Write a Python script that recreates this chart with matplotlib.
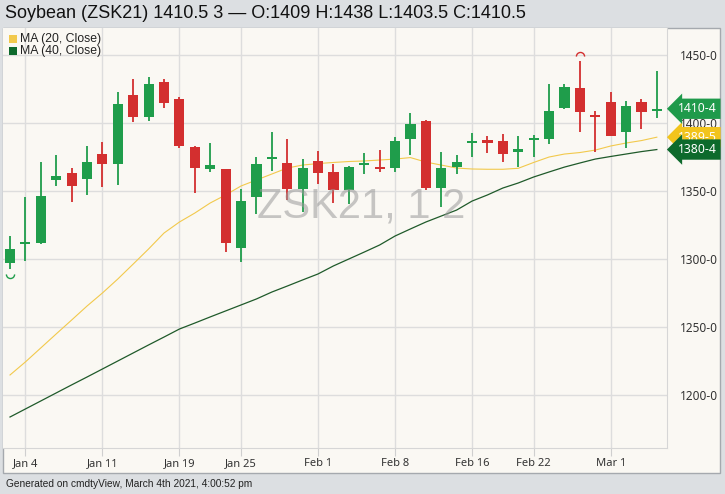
import numpy as np
import matplotlib
matplotlib.use("Agg")
import matplotlib.pyplot as plt
from matplotlib.patches import Rectangle
from matplotlib.path import Path
from matplotlib.ticker import FuncFormatter, MultipleLocator

# Trading days shown on the chart (Dec 31 2020 .. Mar 4 2021)
dates = ["Dec 31", "Jan 4", "Jan 5", "Jan 6", "Jan 7", "Jan 8",
         "Jan 11", "Jan 12", "Jan 13", "Jan 14", "Jan 15",
         "Jan 19", "Jan 20", "Jan 21", "Jan 22",
         "Jan 25", "Jan 26", "Jan 27", "Jan 28", "Jan 29",
         "Feb 1", "Feb 2", "Feb 3", "Feb 4", "Feb 5",
         "Feb 8", "Feb 9", "Feb 10", "Feb 11", "Feb 12",
         "Feb 16", "Feb 17", "Feb 18", "Feb 19",
         "Feb 22", "Feb 23", "Feb 24", "Feb 25", "Feb 26",
         "Mar 1", "Mar 2", "Mar 3", "Mar 4"]

opens = [1296.8, 1311.0, 1312.0, 1358.0, 1363.5, 1358.8,
         1377.2, 1369.9, 1420.6, 1404.2, 1429.9,
         1417.6, 1382.6, 1366.4, 1366.0,
         1307.9, 1345.4, 1373.3, 1370.4, 1351.2,
         1372.3, 1364.2, 1350.7, 1369.5, 1367.4,
         1367.1, 1388.2, 1401.7, 1352.0, 1367.9,
         1385.0, 1387.5, 1386.8, 1378.4,
         1387.5, 1388.0, 1410.8, 1425.5, 1405.8,
         1415.2, 1393.2, 1415.2, 1409.0]
highs = [1316.9, 1345.8, 1371.1, 1376.5, 1367.1, 1383.1,
         1386.3, 1423.0, 1432.4, 1433.6, 1432.1,
         1419.3, 1383.0, 1385.1, 1366.5,
         1351.2, 1375.2, 1393.2, 1388.2, 1373.3,
         1379.4, 1369.6, 1368.2, 1377.7, 1380.1,
         1389.5, 1407.1, 1402.0, 1378.4, 1376.5,
         1392.9, 1390.4, 1391.7, 1390.7,
         1391.2, 1428.7, 1428.7, 1445.8, 1408.8,
         1422.6, 1416.2, 1417.6, 1438.0]
lows = [1292.5, 1298.8, 1311.0, 1353.7, 1341.7, 1347.0,
        1352.7, 1354.4, 1401.0, 1401.5, 1411.3,
        1381.4, 1348.8, 1364.2, 1305.4,
        1297.6, 1333.1, 1364.7, 1343.5, 1334.8,
        1355.0, 1341.0, 1340.5, 1362.5, 1363.8,
        1364.2, 1376.5, 1350.7, 1338.0, 1362.5,
        1374.8, 1377.7, 1371.6, 1367.9,
        1374.8, 1384.6, 1410.0, 1393.6, 1378.9,
        1390.5, 1382.0, 1395.6, 1403.5]
closes = [1307.4, 1311.5, 1346.3, 1361.0, 1353.7, 1371.6,
          1369.9, 1414.0, 1404.2, 1428.4, 1414.5,
          1383.3, 1367.1, 1368.9, 1312.0,
          1342.9, 1369.9, 1374.8, 1351.2, 1366.9,
          1363.0, 1350.7, 1367.6, 1370.5, 1366.0,
          1386.8, 1399.3, 1352.0, 1366.7, 1371.3,
          1386.5, 1385.5, 1377.0, 1380.6,
          1388.5, 1409.0, 1426.2, 1407.9, 1404.8,
          1390.7, 1412.5, 1407.9, 1410.5]

# moving averages
ma20 = [1214.7, 1224.3, 1234.6, 1244.9, 1255.1, 1265.4,
        1275.0, 1285.3, 1296.3, 1307.4, 1319.1,
        1327.2, 1333.8, 1341.2, 1347.1,
        1353.7, 1358.1, 1362.5, 1366.9, 1369.1,
        1370.2, 1371.0, 1371.7, 1372.1, 1372.8,
        1373.5, 1374.6, 1371.3, 1369.1, 1366.9,
        1366.2, 1366.0, 1366.0, 1366.7,
        1371.0, 1375.0, 1377.2, 1378.3, 1380.1,
        1383.1, 1385.3, 1387.1, 1389.6]
ma40 = [1183.8, 1189.7, 1195.6, 1201.5, 1207.4, 1213.2,
        1219.1, 1225.0, 1230.9, 1236.8, 1242.6,
        1248.5, 1252.9, 1257.4, 1261.8,
        1266.2, 1270.6, 1275.7, 1280.1, 1284.6,
        1289.0, 1294.9, 1300.0, 1305.1, 1310.3,
        1316.9, 1322.1, 1327.2, 1331.6, 1336.0,
        1342.6, 1347.1, 1352.2, 1355.9,
        1360.3, 1364.0, 1367.6, 1370.6, 1373.5,
        1375.4, 1377.2, 1379.0, 1380.5]

tick_dates = ["Jan 4", "Jan 11", "Jan 19", "Jan 25", "Feb 1",
              "Feb 8", "Feb 16", "Feb 22", "Mar 1"]

title = "Soybean (ZSK21) 1410.5 3 \u2014 O:1409 H:1438 L:1403.5 C:1410.5"
footer = "Generated on cmdtyView, March 4th 2021, 4:00:52 pm"

UP = "#1f9d4b"
DOWN = "#d32f2f"
MA20_C = "#f2c94c"
MA40_C = "#1f5a2a"
CREAM = "#faf8f3"


def fut(v):
    # futures price in eighths, e.g. 1410.5 -> 1410-4
    whole = int(v)
    return f"{whole}-{int(round((v - whole) * 8))}"


W, H = 725, 494
fig = plt.figure(figsize=(W / 100, H / 100), dpi=100)
fig.patch.set_facecolor("#dcdfe2")

# chart panel (behind the axes)
fig.patches.append(Rectangle((3 / W, 1 - 473 / H), 717 / W, 445 / H,
                             transform=fig.transFigure, facecolor=CREAM,
                             edgecolor="#a5a9ae", lw=1.0, zorder=-10))

ax = fig.add_axes([3 / W, 1 - 448 / H, 664 / W, 420 / H])
ax.set_facecolor(CREAM)

x = np.arange(len(dates))
o = np.array(opens)
c = np.array(closes)
up = c >= o
colors = np.where(up, UP, DOWN)

ax.vlines(x, lows, highs, colors=colors, lw=1.3, zorder=3)
body_lo = np.minimum(o, c)
body_h = np.maximum(np.abs(c - o), 1.3)
ax.bar(x, body_h, bottom=body_lo, width=0.66, color=colors, zorder=3.1)

ax.plot(x, ma20, color=MA20_C, lw=0.8, zorder=2.5)
ax.plot(x, ma40, color=MA40_C, lw=0.9, zorder=2.5)

# high / low markers (small arcs)
arc = Path.arc(0, 180)
arc_up = Path(arc.vertices + [0, 1.2], arc.codes)
arc_dn = Path(arc.vertices * [1, -1] - [0, 1.2], arc.codes)
i_hi = int(np.argmax(highs))
i_lo = int(np.argmin(lows))
ax.plot(x[i_hi], highs[i_hi], marker=arc_up, ms=13, mfc="none",
        mec=UP if up[i_hi] else DOWN, mew=1.0, zorder=4)
ax.plot(x[i_lo], lows[i_lo], marker=arc_dn, ms=13, mfc="none",
        mec=UP if up[i_lo] else DOWN, mew=1.0, zorder=4)

ax.set_xlim(-0.455, 42.66)
ax.set_ylim(1161.0, 1469.9)

tick_pos = [dates.index(d) for d in tick_dates]
ax.set_xticks(tick_pos)
ax.set_xticklabels(tick_dates, fontfamily="Noto Sans", fontsize=8, color="#333333")
ax.yaxis.tick_right()
ax.yaxis.set_major_locator(MultipleLocator(50))
ax.yaxis.set_major_formatter(FuncFormatter(lambda v, p: f"{int(v)}-0"))
for lab in ax.get_yticklabels():
    lab.set_fontfamily("Noto Sans")
ax.tick_params(axis="y", length=0, pad=9, labelsize=8.5, labelcolor="#333333")
ax.tick_params(axis="x", length=6, width=0.8, color="#cfcfcf", pad=1)
ax.grid(True, color="#dddddd", lw=1.0, zorder=0)
ax.set_axisbelow(True)
for side in ["left", "top"]:
    ax.spines[side].set_visible(False)
ax.spines["bottom"].set_color("#d6d6d6")
ax.spines["right"].set_color("#d6d6d6")

# watermark
ax.text(0.54, 0.575, "ZSK21, 1 2", transform=ax.transAxes, ha="center",
        va="center", fontsize=30, color="#9a9a9a", alpha=0.55,
        fontfamily="Liberation Sans", zorder=5)

# legend
for k, (lab, col) in enumerate([("MA (20, Close)", MA20_C), ("MA (40, Close)", "#0d6a2c")]):
    yy = 1 - (39 + 12 * k) / H
    fig.patches.append(Rectangle((9 / W, yy - 4 / H), 8 / W, 8 / H,
                                 transform=fig.transFigure, facecolor=col,
                                 edgecolor="none", zorder=5))
    fig.text(20 / W, yy, lab, fontsize=8.8, fontfamily="Liberation Sans",
             color="#222222", va="center", ha="left")

# last value tags
tags = [(ma20[-1], "#f2c41c", 6), (ma40[-1], "#0d6a2c", 7), (closes[-1], "#1f9a4b", 8)]
for val, col, z in tags:
    ax.annotate(fut(val), xy=(1, val), xycoords=("axes fraction", "data"),
                xytext=(8, 0), textcoords="offset points", ha="left", va="center",
                fontsize=8.8, fontweight="bold", color="white",
                fontfamily="Noto Sans", annotation_clip=False, zorder=z,
                bbox=dict(boxstyle="larrow,pad=0.3", fc=col, ec="none"))

fig.text(5 / W, 1 - 13 / H, title, fontsize=13, fontfamily="Liberation Sans",
         color="#111111", va="center", ha="left")
fig.text(6 / W, 1 - 484 / H, footer, fontsize=7.3, fontfamily="Liberation Sans",
         color="#222222", va="center", ha="left")

fig.savefig("out.png", dpi=100, facecolor=fig.get_facecolor())
